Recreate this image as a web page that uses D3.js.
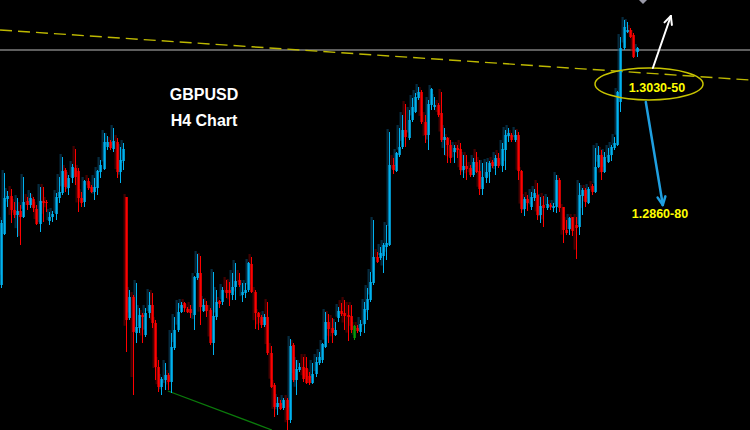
<!DOCTYPE html>
<html><head><meta charset="utf-8">
<script src="https://cdn.jsdelivr.net/npm/d3@7"></script>
<style>html,body{margin:0;padding:0;background:#000;overflow:hidden}</style>
</head><body>
<svg id="chart" width="750" height="430"></svg>
<script>
// ---- data: GBPUSD H4 candles (price) ----
const open = [1.2835,1.2886,1.2921,1.2924,1.2910,1.2905,1.2909,1.2903,1.2919,1.2915,1.2921,1.2911,1.2896,1.2919,1.2918,1.2899,1.2903,1.2906,1.2922,1.2927,1.2950,1.2932,1.2942,1.2952,1.2949,1.2922,1.2918,1.2939,1.2933,1.2928,1.2932,1.2948,1.2951,1.2973,1.2978,1.2971,1.2978,1.2948,1.2959,1.2923,1.2802,1.2823,1.2787,1.2792,1.2805,1.2785,1.2807,1.2815,1.2797,1.2753,1.2733,1.2740,1.2745,1.2738,1.2772,1.2790,1.2808,1.2817,1.2811,1.2811,1.2805,1.2842,1.2847,1.2809,1.2815,1.2810,1.2777,1.2803,1.2819,1.2818,1.2830,1.2830,1.2825,1.2833,1.2840,1.2825,1.2827,1.2830,1.2856,1.2828,1.2807,1.2803,1.2795,1.2803,1.2767,1.2735,1.2713,1.2717,1.2712,1.2720,1.2700,1.2775,1.2740,1.2750,1.2753,1.2752,1.2744,1.2737,1.2746,1.2757,1.2760,1.2773,1.2798,1.2792,1.2785,1.2802,1.2809,1.2807,1.2805,1.2804,1.2782,1.2792,1.2788,1.2796,1.2810,1.2820,1.2837,1.2863,1.2862,1.2864,1.2873,1.2875,1.2955,1.2949,1.2965,1.2973,1.2990,1.2982,1.3000,1.3008,1.3022,1.3028,1.2998,1.2985,1.3015,1.3013,1.3015,1.3007,1.2980,1.2982,1.2975,1.2968,1.2972,1.2971,1.2950,1.2954,1.2952,1.2945,1.2958,1.2949,1.2931,1.2942,1.2948,1.2958,1.2954,1.2962,1.2954,1.2970,1.2984,1.2985,1.2980,1.2985,1.2949,1.2911,1.2921,1.2913,1.2922,1.2925,1.2905,1.2915,1.2912,1.2915,1.2912,1.2913,1.2940,1.2913,1.2890,1.2891,1.2903,1.2895,1.2893,1.2924,1.2930,1.2917,1.2934,1.2928,1.2953,1.2965,1.2948,1.2958,1.2965,1.2972,1.2975,1.3018,1.3072,1.3088,1.3090,1.3085,1.3068];
const high = [1.2900,1.2947,1.2929,1.2931,1.2918,1.2922,1.2915,1.2943,1.2923,1.2927,1.2923,1.2915,1.2933,1.2933,1.2920,1.2908,1.2909,1.2927,1.2943,1.2963,1.2952,1.2945,1.2956,1.2971,1.2952,1.2928,1.2940,1.2942,1.2935,1.2942,1.2950,1.2960,1.2987,1.2984,1.2980,1.2992,1.2982,1.2973,1.2977,1.2923,1.2830,1.2825,1.2837,1.2812,1.2807,1.2812,1.2828,1.2827,1.2800,1.2760,1.2743,1.2757,1.2747,1.2787,1.2803,1.2817,1.2818,1.2818,1.2813,1.2815,1.2844,1.2866,1.2864,1.2821,1.2819,1.2812,1.2848,1.2830,1.2820,1.2833,1.2840,1.2838,1.2847,1.2857,1.2847,1.2837,1.2837,1.2858,1.2863,1.2830,1.2808,1.2805,1.2806,1.2818,1.2774,1.2737,1.2723,1.2720,1.2722,1.2722,1.2781,1.2777,1.2760,1.2757,1.2763,1.2763,1.2748,1.2757,1.2763,1.2768,1.2777,1.2808,1.2806,1.2802,1.2798,1.2813,1.2817,1.2820,1.2815,1.2815,1.2795,1.2795,1.2800,1.2818,1.2832,1.2848,1.2900,1.2868,1.2873,1.2877,1.2895,1.2988,1.2962,1.2968,1.2992,1.3005,1.3016,1.3010,1.3022,1.3027,1.3033,1.3030,1.3005,1.3020,1.3032,1.3023,1.3017,1.3028,1.2992,1.2983,1.2980,1.2975,1.2975,1.2977,1.2965,1.2965,1.2955,1.2962,1.2968,1.2960,1.2957,1.2958,1.2959,1.2960,1.2965,1.2967,1.2977,1.2990,1.2992,1.2987,1.2990,1.2988,1.2950,1.2923,1.2925,1.2928,1.2931,1.2937,1.2923,1.2924,1.2923,1.2917,1.2917,1.2945,1.2942,1.2913,1.2900,1.2903,1.2903,1.2903,1.2937,1.2932,1.2932,1.2933,1.2936,1.2972,1.2974,1.2970,1.2968,1.2972,1.2975,1.2983,1.3029,1.3083,1.3100,1.3098,1.3092,1.3087,1.3073];
const low = [1.2832,1.2885,1.2913,1.2897,1.2902,1.2883,1.2875,1.2902,1.2910,1.2912,1.2908,1.2895,1.2888,1.2898,1.2908,1.2895,1.2898,1.2900,1.2917,1.2925,1.2928,1.2925,1.2937,1.2935,1.2908,1.2913,1.2913,1.2930,1.2927,1.2920,1.2925,1.2942,1.2950,1.2970,1.2970,1.2968,1.2942,1.2937,1.2950,1.2768,1.2800,1.2725,1.2777,1.2787,1.2777,1.2783,1.2802,1.2792,1.2740,1.2728,1.2725,1.2730,1.2730,1.2727,1.2770,1.2788,1.2807,1.2808,1.2807,1.2802,1.2790,1.2840,1.2795,1.2808,1.2803,1.2775,1.2765,1.2800,1.2812,1.2815,1.2822,1.2814,1.2820,1.2820,1.2833,1.2818,1.2822,1.2828,1.2827,1.2791,1.2790,1.2792,1.2793,1.2765,1.2732,1.2703,1.2705,1.2710,1.2710,1.2690,1.2697,1.2738,1.2725,1.2748,1.2738,1.2736,1.2735,1.2736,1.2743,1.2755,1.2757,1.2772,1.2777,1.2777,1.2784,1.2798,1.2804,1.2790,1.2779,1.2787,1.2780,1.2787,1.2784,1.2787,1.2800,1.2818,1.2835,1.2857,1.2860,1.2847,1.2860,1.2874,1.2946,1.2948,1.2963,1.2971,1.2973,1.2980,1.2998,1.3007,1.3020,1.2996,1.2977,1.2970,1.3010,1.3010,1.3003,1.2978,1.2965,1.2957,1.2957,1.2957,1.2962,1.2945,1.2942,1.2940,1.2943,1.2943,1.2947,1.2925,1.2925,1.2937,1.2937,1.2952,1.2945,1.2952,1.2948,1.2950,1.2978,1.2978,1.2978,1.2940,1.2907,1.2904,1.2909,1.2910,1.2919,1.2900,1.2897,1.2893,1.2910,1.2910,1.2908,1.2907,1.2908,1.2877,1.2885,1.2885,1.2884,1.2861,1.2885,1.2905,1.2913,1.2916,1.2925,1.2927,1.2952,1.2940,1.2947,1.2957,1.2959,1.2970,1.2974,1.3008,1.3070,1.3087,1.3082,1.3062,1.3063];
const close = [1.2897,1.2922,1.2924,1.2910,1.2905,1.2909,1.2903,1.2918,1.2915,1.2922,1.2912,1.2896,1.2919,1.2917,1.2917,1.2903,1.2906,1.2923,1.2928,1.2949,1.2933,1.2942,1.2953,1.2943,1.2922,1.2917,1.2939,1.2932,1.2928,1.2933,1.2949,1.2955,1.2978,1.2978,1.2972,1.2979,1.2948,1.2960,1.2971,1.2800,1.2823,1.2788,1.2793,1.2805,1.2803,1.2807,1.2815,1.2797,1.2753,1.2733,1.2741,1.2745,1.2738,1.2773,1.2790,1.2808,1.2815,1.2812,1.2808,1.2807,1.2843,1.2847,1.2813,1.2815,1.2809,1.2777,1.2804,1.2818,1.2816,1.2830,1.2827,1.2827,1.2833,1.2839,1.2835,1.2828,1.2830,1.2857,1.2828,1.2807,1.2803,1.2795,1.2803,1.2767,1.2733,1.2713,1.2717,1.2711,1.2720,1.2700,1.2774,1.2740,1.2751,1.2753,1.2741,1.2737,1.2737,1.2746,1.2758,1.2763,1.2776,1.2798,1.2791,1.2787,1.2790,1.2809,1.2806,1.2804,1.2803,1.2790,1.2794,1.2789,1.2796,1.2811,1.2821,1.2838,1.2863,1.2858,1.2867,1.2875,1.2877,1.2955,1.2950,1.2967,1.2973,1.2990,1.2983,1.3000,1.3013,1.3023,1.3028,1.2998,1.2985,1.3016,1.3031,1.3015,1.3005,1.2980,1.2983,1.2975,1.2962,1.2972,1.2970,1.2950,1.2954,1.2951,1.2945,1.2958,1.2948,1.2931,1.2943,1.2948,1.2957,1.2954,1.2962,1.2954,1.2971,1.2985,1.2987,1.2980,1.2985,1.2949,1.2911,1.2921,1.2917,1.2923,1.2927,1.2905,1.2914,1.2912,1.2916,1.2913,1.2914,1.2940,1.2912,1.2890,1.2887,1.2902,1.2889,1.2892,1.2925,1.2930,1.2918,1.2931,1.2928,1.2953,1.2965,1.2948,1.2963,1.2965,1.2973,1.2977,1.3028,1.3072,1.3093,1.3090,1.3083,1.3063,1.3072];
const highlighted = [110];           // candle drawn in green
const symbolLabel = ["GBPUSD", "H4 Chart"];
const hLevel = 1.3070;               // grey horizontal level
const trendLine = [[-0.3, 1.3090], [233.3, 1.3040]]; // [bar, price]
const supportLine = [[52.0, 1.2729], [84.4, 1.2690]];
const zoneCenter = [201.9, 1.3036];
const zoneLabel = "1.3030-50";
const targetLabel = "1.2860-80";
const upArrow = [[203.1, 1.3052], [208.7, 1.3104]];
const downArrow = [[200.9, 1.3018], [206.2, 1.2915]];

// ---- chart ----
const W = 750, H = 430;
const svg = d3.select("#chart");
svg.append("rect").attr("width", W).attr("height", H).attr("fill", "#000");

const n = open.length;
const x = d3.scaleLinear().domain([0, n - 1]).range([1, 636.5]);
const y = d3.scaleLinear().domain([1.2690, 1.3120]).range([430, 0]);

const candles = d3.range(n).map(i => ({i, o: open[i], h: high[i], l: low[i], c: close[i]}));
const col = d => highlighted.includes(d.i) ? "#0a9a0a" : (d.c >= d.o ? "#00b2f0" : "#ff0000");
const ghostCol = d => highlighted.includes(d.i) ? "#064a06" : (d.c >= d.o ? "#0a4f72" : "#7a0000");

// grey level line
svg.append("line").attr("x1", 0).attr("x2", W).attr("y1", y(hLevel)).attr("y2", y(hLevel))
  .attr("stroke", "#7e7e7e").attr("stroke-width", 1.6);

// yellow dashed trend line
svg.append("line")
  .attr("x1", x(trendLine[0][0])).attr("y1", y(trendLine[0][1]))
  .attr("x2", x(trendLine[1][0])).attr("y2", y(trendLine[1][1]))
  .attr("stroke", "#bdb800").attr("stroke-width", 1.4).attr("stroke-dasharray", "12,6");

// green support line
svg.append("line")
  .attr("x1", x(supportLine[0][0])).attr("y1", y(supportLine[0][1]))
  .attr("x2", x(supportLine[1][0])).attr("y2", y(supportLine[1][1]))
  .attr("stroke", "#0b7a0b").attr("stroke-width", 1.3);

// faint ghost copy (as in the photographed screen)
const gg = svg.append("g").attr("transform", "translate(-2,-3)");
gg.selectAll("rect").data(candles).join("rect")
  .attr("x", d => Math.round(x(d.i)) - 0.5).attr("width", 2.2)
  .attr("y", d => y(d.h)).attr("height", d => Math.max(1, y(d.l) - y(d.h)) * 0.85)
  .attr("fill", ghostCol).attr("opacity", 0.55);

const g = svg.append("g");
g.selectAll("line.wick").data(candles).join("line").attr("class", "wick")
  .attr("x1", d => Math.round(x(d.i)) + 0.5).attr("x2", d => Math.round(x(d.i)) + 0.5)
  .attr("y1", d => y(d.h)).attr("y2", d => y(d.l))
  .attr("stroke", col).attr("stroke-width", 1);
g.selectAll("rect.body").data(candles).join("rect").attr("class", "body")
  .attr("x", d => Math.round(x(d.i)) - 0.6).attr("width", 2.4)
  .attr("y", d => y(Math.max(d.o, d.c)))
  .attr("height", d => Math.max(1, Math.abs(y(d.o) - y(d.c))))
  .attr("fill", col);

// symbol labels
svg.append("text").attr("x", 204).attr("y", 100).attr("text-anchor", "middle")
  .attr("fill", "#fff").attr("font-family", "Liberation Sans, Arial, sans-serif")
  .attr("font-weight", "bold").attr("font-size", 16).text(symbolLabel[0]);
svg.append("text").attr("x", 204).attr("y", 126).attr("text-anchor", "middle")
  .attr("fill", "#fff").attr("font-family", "Liberation Sans, Arial, sans-serif")
  .attr("font-weight", "bold").attr("font-size", 16).text(symbolLabel[1]);

// zone ellipse
svg.append("ellipse").attr("cx", x(zoneCenter[0])).attr("cy", y(zoneCenter[1]))
  .attr("rx", 54).attr("ry", 16).attr("fill", "none").attr("stroke", "#c8c400").attr("stroke-width", 1.5);

svg.append("text").attr("x", 657).attr("y", y(zoneCenter[1]) + 8).attr("text-anchor", "middle")
  .attr("fill", "#ffff00").attr("font-family", "Liberation Sans, Arial, sans-serif")
  .attr("font-weight", "bold").attr("font-size", 12.5).text(zoneLabel);
svg.append("text").attr("x", 660).attr("y", 218).attr("text-anchor", "middle")
  .attr("fill", "#ffff00").attr("font-family", "Liberation Sans, Arial, sans-serif")
  .attr("font-weight", "bold").attr("font-size", 12.5).text(targetLabel);

function arrow(pts, color, w) {
  const x1 = x(pts[0][0]), y1 = y(pts[0][1]), x2 = x(pts[1][0]), y2 = y(pts[1][1]);
  svg.append("line").attr("x1", x1).attr("y1", y1).attr("x2", x2).attr("y2", y2)
    .attr("stroke", color).attr("stroke-width", w).attr("stroke-linecap", "round");
  const ang = Math.atan2(y2 - y1, x2 - x1), L = 9, spread = 0.45;
  [ang + Math.PI - spread, ang + Math.PI + spread].forEach(a => {
    svg.append("line").attr("x1", x2).attr("y1", y2)
      .attr("x2", x2 + L * Math.cos(a)).attr("y2", y2 + L * Math.sin(a))
      .attr("stroke", color).attr("stroke-width", w).attr("stroke-linecap", "round");
  });
}
arrow(upArrow, "#ffffff", 2);
arrow(downArrow, "#1f9fe0", 2.5);

// small grey marker at top
svg.append("path").attr("d", "M639,0 L647,0 L643,4 Z").attr("fill", "#9a9aa8");
</script>
</body></html>
